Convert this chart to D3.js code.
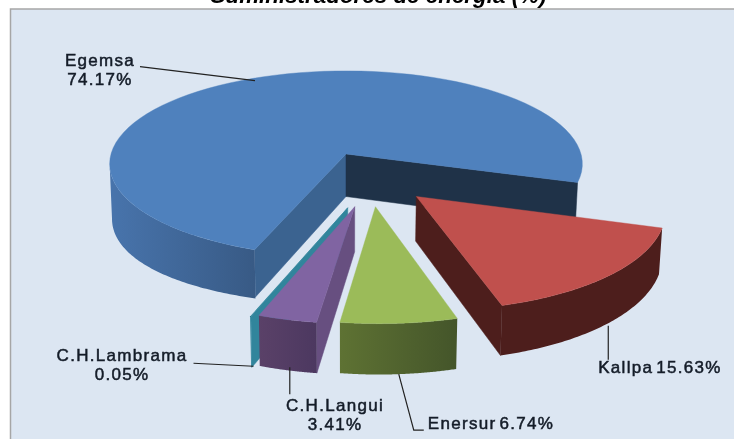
<!DOCTYPE html>
<html>
<head>
<meta charset="utf-8">
<script src="https://cdn.jsdelivr.net/npm/d3@7"></script>
<style>
html,body{margin:0;padding:0;background:#fff;overflow:hidden}
svg{display:block;filter:blur(0.35px)}
text{font-family:"Liberation Sans",Arial,sans-serif;fill:#141c28}
</style>
</head>
<body>
<div id="chart"></div>
<script>
// Data
const categories = ["Kallpa", "Enersur", "C.H.Langui", "C.H.Lambrama", "Egemsa"];
const shares = [15.63, 6.74, 3.41, 0.05, 74.17];
const titleText = "Suministradores de energía (%)";

// Styling
const topColors  = ["#C0504D", "#9BBB59", "#8064A2", "#31859C", "#4F81BD"];
const wallFrom   = ["#4D1E1C", "#5E7233", "#5A4168", "#31859C", "#4874AC"];
const wallTo     = ["#4D1E1C", "#44552A", "#4C3860", "#31859C", "#385A85"];
const faceColors = ["#4D1E1C", "#5E7233", "#674F80", "#31859C", "#3B6390"];
const backFace   = "#1F3248";
const explodeU   = [0.285, 0.118, 0.035, 0.007, 0];
const explodeV   = [0.44, 0.54, 0.54, 0.55, 0];
const labelLines = [["Kallpa 15.63%"], ["Enersur 6.74%"], ["C.H.Langui", "3.41%"], ["C.H.Lambrama", "0.05%"], ["Egemsa", "74.17%"]];
const labelX     = [660, 491, 335, 122, 100];
const labelY     = [373, 429, 411, 361, 66];
const leaderNudge = [[1, 2], [0, 0], [2, -3], [2, -1], [3, 2]];
const leaderPath = [
  [[0, 34]],
  [[15, 56], [25, 56]],
  [[0, 27]],
  [[-60, -3]],
  [[-115, -14]]
];

const W = 734, H = 439;
const cx = 346, cy = 154, R = 235, K = 92, P = 0.107, DEPTH = 42.5, TAPER = 0.99, SIDE_DEPTH = 12;

const svg = d3.select("#chart").append("svg").attr("width", W).attr("height", H);
const defs = svg.append("defs");

svg.append("rect").attr("x", 10.5).attr("y", 9).attr("width", 740).attr("height", 440)
  .attr("fill", "#DCE6F2").attr("stroke", "#A6A6A6").attr("stroke-width", 1.5);

svg.append("text").attr("x", 378.5).attr("y", 3).attr("text-anchor", "middle")
  .attr("font-size", 22.4).attr("font-weight", "bold").attr("font-style", "italic")
  .style("fill", "#000").text(titleText);

const project = (u, v, low) => {
  const s = 1 / (1 - P * v);
  const x = R * u * s, y = K * v * s;
  return low ? [cx + x * TAPER, cy + y + DEPTH * s] : [cx + x, cy + y];
};

const pie = d3.pie().sort(null).startAngle(107.5 * Math.PI / 180).endAngle((107.5 + 360) * Math.PI / 180);
const arcs = pie(shares).map((d, i) => ({
  i, a0: d.startAngle - Math.PI / 2, a1: d.endAngle - Math.PI / 2,
  u0: explodeU[i], v0: explodeV[i]
}));

const rim = (s, a, low) => project(s.u0 + Math.cos(a), s.v0 + Math.sin(a), low);
const rimPts = (s, low, a0 = s.a0, a1 = s.a1) => d3.range(0, 81).map(k => rim(s, a0 + (a1 - a0) * k / 80, low));
const line = d3.line();
const cameraV = 1 / P;

// Painter's order: the large back slice first, the slices in front afterwards.
[4, 3, 2, 1, 0].map(i => arcs[i]).forEach(s => {
  const g = svg.append("g");
  const gid = "wall" + s.i;
  const lg = defs.append("linearGradient").attr("id", gid).attr("x1", "0%").attr("x2", "100%");
  lg.append("stop").attr("offset", "0%").attr("stop-color", wallFrom[s.i]);
  lg.append("stop").attr("offset", "100%").attr("stop-color", wallTo[s.i]);

  // Flat cut faces, drawn only if their outer side looks at the camera.
  [[s.a0, 1], [s.a1, -1]].forEach(([a, sgn]) => {
    const nu = Math.sin(a) * sgn, nv = -Math.cos(a) * sgn;
    if ((0 - s.u0) * nu + (cameraV - s.v0) * nv <= 0) return;
    const poly = [project(s.u0, s.v0), rim(s, a), rim(s, a, true), project(s.u0, s.v0, true)];
    const col = s.i === 4 && sgn === -1 ? backFace : faceColors[s.i];
    g.append("path").attr("d", line(poly) + "Z").attr("fill", col).attr("stroke", col).attr("stroke-width", 0.5);
  });

  // Outer wall: the large slice shows its rim only up to the left silhouette point,
  // and that rim runs a little deeper towards the far left.
  const wallEnd = s.i === 4 ? Math.PI - Math.asin(P) : s.a1;
  const wallTop = rimPts(s, false, s.a0, wallEnd);
  const wallLow = d3.range(0, 81).map(k => {
    const a = s.a0 + (wallEnd - s.a0) * k / 80;
    const p = rim(s, a, true);
    return s.i === 4 ? [p[0], p[1] + SIDE_DEPTH * Math.cos(a) ** 2] : p;
  });
  g.append("path").attr("d", line(wallTop.concat(wallLow.reverse())) + "Z")
    .attr("fill", `url(#${gid})`);

  // Top surface
  const surf = [project(s.u0, s.v0)].concat(rimPts(s, false));
  g.append("path").attr("d", line(surf) + "Z").attr("fill", topColors[s.i]).attr("stroke", topColors[s.i]).attr("stroke-width", 0.4);
});

// Leaders start at the middle of each slice's rim.
arcs.forEach(s => {
  const mid = (s.a0 + s.a1) / 2;
  const p0 = rim(s, mid, s.i !== 4);
  const start = [p0[0] + leaderNudge[s.i][0], p0[1] + leaderNudge[s.i][1]];
  const pts = [start].concat(leaderPath[s.i].map(([dx, dy]) => [start[0] + dx, start[1] + dy]));
  svg.append("path").attr("d", line(pts)).attr("fill", "none").attr("stroke", "#222").attr("stroke-width", 1.2);
});

// Labels
arcs.forEach(s => {
  const t = svg.append("text").attr("text-anchor", "middle").attr("font-size", 17)
    .attr("y", labelY[s.i]).style("letter-spacing", "1.3px").style("word-spacing", "-3px")
    .style("stroke", "#141c28").style("stroke-width", "0.5px");
  labelLines[s.i].forEach((l, k) => {
    t.append("tspan").attr("x", labelX[s.i]).attr("dy", k ? 19 : 0).text(l);
  });
});
</script>
</body>
</html>
